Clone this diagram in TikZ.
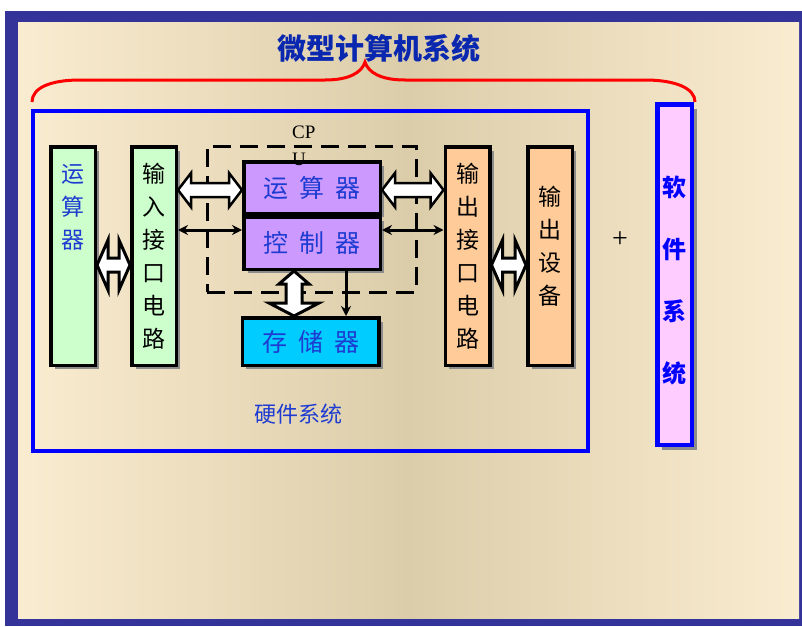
\documentclass[tikz,border=0pt]{standalone}
\usepackage{fontspec}
\setmainfont{Liberation Serif}
\newfontfamily\cjk{Noto Sans CJK SC}
\usetikzlibrary{shadows,calc,arrows.meta}
\definecolor{framec}{RGB}{51,51,153}
\definecolor{bgedge}{RGB}{250,236,208}
\definecolor{bgmid}{RGB}{220,205,170}
\definecolor{txtblue}{RGB}{30,60,210}
\definecolor{titleblue}{RGB}{10,40,175}
\definecolor{grn}{RGB}{204,255,204}
\definecolor{purp}{RGB}{204,153,255}
\definecolor{cyanb}{RGB}{0,204,255}
\definecolor{orng}{RGB}{255,204,153}
\definecolor{pinkb}{RGB}{255,204,255}
\newcommand\blkH[5]{%
  \draw[blk] let \p1=(#1), \p2=(#2) in
    (\x1,\y1) -- (\x1+#3,\y1+#4) -- (\x1+#3,\y1+#5) -- (\x2-#3,\y1+#5) -- (\x2-#3,\y1+#4)
    -- (\x2,\y1) -- (\x2-#3,\y1-#4) -- (\x2-#3,\y1-#5) -- (\x1+#3,\y1-#5) -- (\x1+#3,\y1-#4) -- cycle;}
% vertical: #1 top point, #2 bottom point, #3 head length, #4 top head half, #5 shaft half, #6 bottom head half
\newcommand\blkV[6]{%
  \draw[blk] let \p1=(#1), \p2=(#2) in
    (\x1,\y1) -- (\x1+#4,\y1-#3) -- (\x1+#5,\y1-#3) -- (\x1+#5,\y2+#3) -- (\x1+#6,\y2+#3)
    -- (\x1,\y2) -- (\x1-#6,\y2+#3) -- (\x1-#5,\y2+#3) -- (\x1-#5,\y1-#3) -- (\x1-#4,\y1-#3) -- cycle;}
\newcommand\gap{\hspace{11pt}}
\tikzset{
  box/.style={draw=black, line width=3.5pt, inner sep=0pt,
    drop shadow={shadow xshift=4pt, shadow yshift=-4pt, fill=black!45, opacity=1}},
  tall/.style={box, minimum width=44.5pt, minimum height=218.5pt, align=center,
    font=\cjk\fontsize{23}{33}\selectfont},
  cpubox/.style={box, minimum width=136.5pt, align=center, text=txtblue,
    font=\cjk\fontsize{25}{27}\selectfont},
  blk/.style={draw=black, fill=white, line width=2.5pt, line join=miter},
  blkb/.style={draw=black, fill=white, line width=3pt, line join=miter},
  thinarr/.style={line width=3pt, {Stealth[length=10pt,width=10pt]}-{Stealth[length=10pt,width=10pt]}},
}
\begin{document}
\begin{tikzpicture}[x=1pt,y=-1pt]
\useasboundingbox (0,0) rectangle (802,626);
% background frame
\fill[framec] (5,11) rectangle (802,626);
\shade[left color=bgedge, right color=bgedge, middle color=bgmid] (18,23) rectangle (799,618);
% title and brace
\node[text=titleblue, font=\cjk\bfseries\fontsize{29}{31}\selectfont] (title) at (379,48) {微型计算机系统};
\draw[red, line width=3pt] (32,102) .. controls (32,88) and (50,80) .. (80,80) -- (325,80)
  .. controls (350,80) and (362,72) .. (365,62) .. controls (368,72) and (380,80) .. (405,80)
  -- (645,80) .. controls (675,80) and (695,88) .. (695,102);
% hardware box
\node[draw=blue, line width=4pt, minimum width=555pt, minimum height=340pt] (hw) at (310.5,281) {};
\node[text=txtblue, font=\cjk\fontsize{22}{24}\selectfont] (hwlabel) at (298,414) {硬件系统};
% CPU dashed box
\node[draw=black, line width=3pt, dash pattern=on 18pt off 9pt, minimum width=209pt, minimum height=146pt] (cpu) at (311.5,219) {};
% tall boxes
\node[tall, fill=grn, text=txtblue] (alu1) at (73,256) {运\\算\\器\\~\\~\\~};
\node[tall, fill=grn] (inL) at (154,256) {输\\入\\接\\口\\电\\路};
\node[tall, fill=orng] (outI) at (467.5,256) {输\\出\\接\\口\\电\\路};
\node[tall, fill=orng] (outD) at (550,256) {输\\出\\设\\备\\[-12pt]~};
% CPU boxes
\node[cpubox, fill=purp, minimum height=51.5pt] (aluC) at (312,187.5) {运\gap 算\gap 器};
\node[cpubox, fill=purp, minimum height=52.5pt] (ctrl) at (312,243) {控\gap 制\gap 器};
\node[cpubox, fill=cyanb, minimum height=47.5pt] (mem) at (310.5,341.5) {存\gap 储\gap 器};
\node[anchor=west, align=left, font=\fontsize{19}{27}\selectfont, inner sep=0pt] (cpulabel) at (292,146) {CP\\U};
% software box
\node[draw=blue, line width=4.5pt, fill=pinkb, minimum width=34.5pt, minimum height=340.5pt, inner sep=0pt,
  drop shadow={shadow xshift=5pt, shadow yshift=-5pt, fill=black!45, opacity=1},
  align=center, text=blue, font=\cjk\bfseries\fontsize{24}{62}\selectfont] (sw) at (674.5,274.5) {\rule{0pt}{32pt}软\\件\\系\\统};
\node[font=\fontsize{28}{30}\selectfont] (plus) at (620,240) {+};
% thin arrows
\coordinate (t1) at (0,230);
\draw[thinarr] (inL.east |- t1) -- (aluC.west |- t1);
\draw[thinarr] (ctrl.east |- t1) -- (outI.west |- t1);
\coordinate (t2) at (346,0);
\draw[line width=3pt, -{Stealth[length=10pt,width=10pt]}] (t2 |- ctrl.south) -- (t2 |- mem.north);
% block arrows
\coordinate (b1) at (0,190);
\blkH{inL.east |- b1}{aluC.west |- b1}{13pt}{17pt}{7pt}
\blkH{aluC.east |- b1}{outI.west |- b1}{13pt}{17pt}{7pt}
\coordinate (b2) at (0,265);
\tikzset{blk/.style={blkb}}
\blkH{alu1.east |- b2}{inL.west |- b2}{11pt}{25pt}{7pt}
\blkH{outI.east |- b2}{outD.west |- b2}{11pt}{25pt}{7pt}
\coordinate (b3) at (294,0);
\blkV{b3 |- ctrl.south}{b3 |- mem.north}{13pt}{15pt}{8pt}{25pt}
\end{tikzpicture}
\end{document}
